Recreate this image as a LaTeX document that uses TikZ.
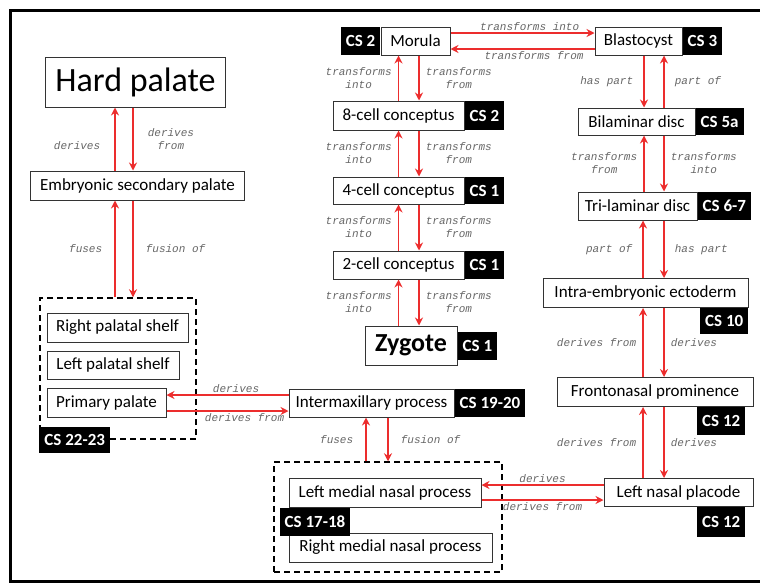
\documentclass[tikz,border=0pt]{standalone}
\usepackage{fontspec}
\setmainfont{Carlito}
\newfontfamily\relfont{Liberation Mono}
\usepackage{xcolor}
\usetikzlibrary{arrows.meta, positioning, calc}
\definecolor{relred}{RGB}{236,45,45}

\begin{document}
\begin{tikzpicture}[x=1pt, y=-1pt,
  box/.style={draw=black!80, line width=1pt, fill=white, inner sep=2pt, font=\fontsize{17}{19}\selectfont},
  stage/.style={fill=black, text=white, inner xsep=5pt, inner ysep=1pt, font=\fontsize{17}{19}\selectfont\bfseries},
  group/.style={draw, line width=1.5pt, dash pattern=on 6pt off 4pt},
  rel/.style={draw=relred, line width=1.6pt, -{Stealth[length=8pt, width=8pt]}},
  lab/.style={font=\relfont\itshape\fontsize{11}{13}\selectfont, text=black!60, align=center, inner sep=6pt}]
\useasboundingbox (0,0) rectangle (760,587);
\clip (0,0) rectangle (760,587);
\draw[line width=3pt] (10,10) rectangle (772,581);

% dashed groups
\node[group, minimum width=156pt, minimum height=141pt] (palgrp) at (118,368.5) {};
\node[group, minimum width=228pt, minimum height=110pt] (nasalgrp) at (388,517) {};

% palate side
\node[box, font=\fontsize{34}{36}\selectfont, minimum width=180pt, minimum height=50pt] (hard) at (135.5,82) {Hard palate};
\node[box, minimum width=214pt, minimum height=29pt] (emb) at (137.5,185.5) {Embryonic secondary palate};
\node[box, minimum width=141pt, minimum height=29pt] (rps) at (117.5,327.5) {Right palatal shelf};
\node[box, minimum width=132pt, minimum height=28pt] (lps) at (113,365) {Left palatal shelf};
\node[box, minimum width=119pt, minimum height=29pt] (pp) at (106.5,402.5) {Primary palate};
\node[stage, minimum height=26pt, anchor=west] (palcs) at (palgrp.south west) {CS 22-23};

\node[box, minimum width=165pt, minimum height=28pt] (inter) at (371.5,403) {Intermaxillary process};
\node[stage, minimum height=28pt, anchor=west] (intercs) at (inter.east) {CS 19-20};
\node[box, minimum width=192pt, minimum height=29pt] (lmnp) at (385,492.5) {Left medial nasal process};
\node[box, minimum width=203pt, minimum height=29pt] (rmnp) at (390.5,547.5) {Right medial nasal process};
\node[stage, minimum height=28pt, anchor=north west] (nasalcs) at ([xshift=-9pt]lmnp.south west) {CS 17-18};

% early stages
\node[box, minimum width=69pt, minimum height=28pt] (morula) at (415.5,41) {Morula};
\node[stage, minimum height=28pt, anchor=east] (morulacs) at (morula.west) {CS 2};
\node[box, minimum width=131pt, minimum height=29pt] (cell8) at (398.5,115.5) {8-cell conceptus};
\node[stage, minimum height=29pt, anchor=west] (cell8cs) at (cell8.east) {CS 2};
\node[box, minimum width=131pt, minimum height=27pt] (cell4) at (398.5,190.5) {4-cell conceptus};
\node[stage, minimum height=27pt, anchor=west] (cell4cs) at (cell4.east) {CS 1};
\node[box, minimum width=131pt, minimum height=28pt] (cell2) at (398.5,265) {2-cell conceptus};
\node[stage, minimum height=28pt, anchor=west] (cell2cs) at (cell2.east) {CS 1};
\node[box, font=\fontsize{26}{28}\selectfont\bfseries, minimum width=92pt, minimum height=39pt] (zyg) at (411,345.5) {Zygote};
\node[stage, minimum height=28pt, anchor=west] (zygcs) at (zyg.east) {CS 1};

% right column
\node[box, minimum width=87pt, minimum height=28pt] (blast) at (638.5,41) {Blastocyst};
\node[stage, minimum height=28pt, anchor=west] (blastcs) at (blast.east) {CS 3};
\node[box, minimum width=117pt, minimum height=27pt] (bila) at (636.5,121.5) {Bilaminar disc};
\node[stage, minimum height=27pt, anchor=west] (bilacs) at (bila.east) {CS 5a};
\node[box, minimum width=119pt, minimum height=28pt] (tri) at (637.5,206) {Tri-laminar disc};
\node[stage, minimum height=28pt, anchor=west] (trics) at (tri.east) {CS 6-7};
\node[box, minimum width=205pt, minimum height=29pt] (intra) at (645.5,293) {Intra-embryonic ectoderm};
\node[stage, minimum height=26pt, anchor=north east] (intracs) at (intra.south east) {CS 10};
\node[box, minimum width=196pt, minimum height=29pt] (front) at (655,392) {Frontonasal prominence};
\node[stage, minimum height=28pt, anchor=north east] (frontcs) at ([xshift=-8pt]front.south east) {CS 12};
\node[box, minimum width=149pt, minimum height=28pt] (lnp) at (678.5,492.5) {Left nasal placode};
\node[stage, minimum height=30pt, anchor=north east] (lnpcs) at ([xshift=-8pt]lnp.south east) {CS 12};

% palate relations
\draw[rel] ([xshift=-20.5pt]hard.south |- emb.north) -- ([xshift=-20.5pt]hard.south) node[lab, pos=0.4, left, inner sep=14pt] {derives};
\draw[rel] ([xshift=-2.5pt]hard.south) -- ([xshift=-2.5pt]hard.south |- emb.north) node[lab, midway, right, inner sep=14pt] {derives\\from};
\draw[rel] ([xshift=-22.5pt]emb.south |- palgrp.north) -- ([xshift=-22.5pt]emb.south) node[lab, midway, left, inner sep=12pt] {fuses};
\draw[rel] ([xshift=-4.5pt]emb.south) -- ([xshift=-4.5pt]emb.south |- palgrp.north) node[lab, midway, right, inner sep=12pt] {fusion of};
\draw[rel] ([yshift=7.5pt]pp.east -| inter.west) -- ([yshift=7.5pt]pp.east) node[lab, pos=0.43, above, inner sep=2pt] {derives};
\draw[rel] ([yshift=-8.5pt]pp.east) -- ([yshift=-8.5pt]pp.east -| inter.west) node[lab, pos=0.64, below, inner sep=2pt] {derives from};
\draw[rel] ([xshift=-5.5pt]inter.south |- nasalgrp.north) -- ([xshift=-5.5pt]inter.south) node[lab, midway, left, inner sep=12pt] {fuses};
\draw[rel] ([xshift=16.5pt]inter.south) -- ([xshift=16.5pt]inter.south |- nasalgrp.north) node[lab, midway, right, inner sep=12pt] {fusion of};
\draw[rel] ([yshift=7.5pt]lmnp.east -| lnp.west) -- ([yshift=7.5pt]lmnp.east) node[lab, midway, above, inner sep=2pt] {derives};
\draw[rel] ([yshift=-7.5pt]lmnp.east) -- ([yshift=-7.5pt]lmnp.east -| lnp.west) node[lab, midway, below, inner sep=2pt] {derives from};

% cleavage column
\draw[rel] ([yshift=8pt]morula.east) -- ([yshift=8pt]morula.east -| blast.west) node[lab, pos=0.55, above, inner sep=2pt] {transforms into};
\draw[rel] ([yshift=-8pt]morula.east -| blast.west) -- ([yshift=-8pt]morula.east) node[lab, pos=0.42, below, inner sep=2pt] {transforms from};
\draw[rel] ([xshift=-17pt]morula.south |- cell8.north) -- ([xshift=-17pt]morula.south) node[lab, midway, left] {transforms\\into};
\draw[rel] ([xshift=3.5pt]morula.south) -- ([xshift=3.5pt]morula.south |- cell8.north) node[lab, midway, right] {transforms\\from};
\draw[rel] (cell8.south |- cell4.north) -- (cell8.south) node[lab, midway, left] {transforms\\into};
\draw[rel] ([xshift=20.5pt]cell8.south) -- ([xshift=20.5pt]cell8.south |- cell4.north) node[lab, midway, right] {transforms\\from};
\draw[rel] (cell4.south |- cell2.north) -- (cell4.south) node[lab, midway, left] {transforms\\into};
\draw[rel] ([xshift=20.5pt]cell4.south) -- ([xshift=20.5pt]cell4.south |- cell2.north) node[lab, midway, right] {transforms\\from};
\draw[rel] (cell2.south |- zyg.north) -- (cell2.south) node[lab, midway, left] {transforms\\into};
\draw[rel] ([xshift=20.5pt]cell2.south) -- ([xshift=20.5pt]cell2.south |- zyg.north) node[lab, midway, right] {transforms\\from};

% right column relations
\draw[rel] ([xshift=5.5pt]blast.south) -- ([xshift=5.5pt]blast.south |- bila.north) node[lab, midway, left, inner sep=10pt] {has part};
\draw[rel] ([xshift=25.5pt]blast.south |- bila.north) -- ([xshift=25.5pt]blast.south) node[lab, midway, right, inner sep=10pt] {part of};
\draw[rel] ([xshift=7.5pt]bila.south |- tri.north) -- ([xshift=7.5pt]bila.south) node[lab, midway, left] {transforms\\from};
\draw[rel] ([xshift=27.5pt]bila.south) -- ([xshift=27.5pt]bila.south |- tri.north) node[lab, midway, right] {transforms\\into};
\draw[rel] ([xshift=5.5pt]tri.south |- intra.north) -- ([xshift=5.5pt]tri.south) node[lab, midway, left, inner sep=10pt] {part of};
\draw[rel] ([xshift=26.5pt]tri.south) -- ([xshift=26.5pt]tri.south |- intra.north) node[lab, midway, right, inner sep=10pt] {has part};
\draw[rel] ([xshift=-2.5pt]intra.south |- front.north) -- ([xshift=-2.5pt]intra.south) node[lab, midway, left] {derives from};
\draw[rel] ([xshift=18.5pt]intra.south) -- ([xshift=18.5pt]intra.south |- front.north) node[lab, midway, right] {derives};
\draw[rel] ([xshift=-12pt]front.south |- lnp.north) -- ([xshift=-12pt]front.south) node[lab, midway, left] {derives from};
\draw[rel] ([xshift=9pt]front.south) -- ([xshift=9pt]front.south |- lnp.north) node[lab, midway, right] {derives};
\end{tikzpicture}
\end{document}
